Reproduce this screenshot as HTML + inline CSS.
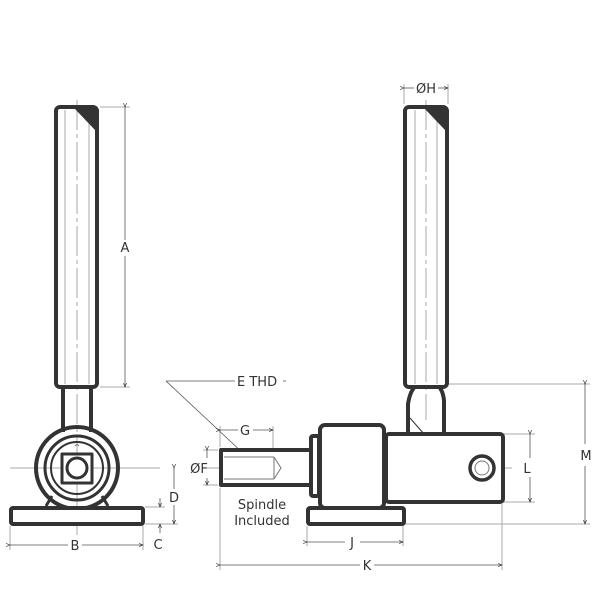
<!DOCTYPE html>
<html><head><style>
html,body{margin:0;padding:0;background:#fff;}
svg{display:block;}
text{font-family:"DejaVu Sans","Liberation Sans",sans-serif;fill:#333;}
</style></head><body>
<svg width="600" height="612" viewBox="0 0 600 612" xmlns="http://www.w3.org/2000/svg">
<defs>
<marker id="a" markerWidth="6" markerHeight="6" refX="5" refY="3" orient="auto"><path d="M0,1 L5,3 L0,5" fill="none" stroke="#333" stroke-width="0.8"/></marker>
</defs>
<g fill="none" stroke="#aaa" stroke-width="1">
<!-- centerlines -->
<line x1="77" y1="100" x2="77" y2="535" stroke-dasharray="30,4,4,4"/>
<line x1="10" y1="468" x2="160" y2="468"/>
<line x1="426" y1="100" x2="426" y2="420" stroke-dasharray="30,4,4,4"/>
<line x1="205" y1="468" x2="512" y2="468" stroke-dasharray="30,4,4,4"/>
<line x1="482" y1="447" x2="482" y2="490"/>
<!-- handle inner lines -->
<line x1="65" y1="110" x2="65" y2="384"/><line x1="89" y1="110" x2="89" y2="384"/>
<line x1="415" y1="110" x2="415" y2="384"/><line x1="437" y1="110" x2="437" y2="384"/>
<!-- extension lines -->
<line x1="100" y1="107" x2="130" y2="107"/><line x1="100" y1="387" x2="130" y2="387"/>
<line x1="449" y1="384" x2="590" y2="384"/><line x1="405" y1="524" x2="590" y2="524"/>
<line x1="504" y1="434" x2="535" y2="434"/><line x1="504" y1="502" x2="535" y2="502"/>
<line x1="145" y1="507" x2="165" y2="507"/><line x1="145" y1="524" x2="178" y2="524"/>
<line x1="10" y1="526" x2="10" y2="550"/><line x1="143" y1="526" x2="143" y2="550"/>
<line x1="404" y1="84" x2="404" y2="104"/><line x1="448" y1="84" x2="448" y2="104"/>
<line x1="307" y1="526" x2="307" y2="546"/><line x1="403" y1="526" x2="403" y2="546"/>
<line x1="220" y1="488" x2="220" y2="570"/><line x1="502" y1="504" x2="502" y2="570"/>
<line x1="220" y1="426" x2="220" y2="447"/><line x1="273" y1="426" x2="273" y2="456"/>
<line x1="203" y1="450" x2="218" y2="450"/><line x1="203" y1="485" x2="218" y2="485"/>
</g>
<g stroke="#555" stroke-width="0.8" fill="none">
<line x1="125" y1="107" x2="125" y2="240" marker-start="url(#a)"/><line x1="125" y1="256" x2="125" y2="387" marker-end="url(#a)"/>
<line x1="174" y1="468" x2="174" y2="489" marker-start="url(#a)"/><line x1="174" y1="505" x2="174" y2="524" marker-end="url(#a)"/>
<line x1="160" y1="498" x2="160" y2="507" marker-end="url(#a)"/><line x1="160" y1="533" x2="160" y2="524" marker-end="url(#a)"/>
<line x1="10" y1="545" x2="68" y2="545" marker-start="url(#a)"/><line x1="82" y1="545" x2="143" y2="545" marker-end="url(#a)"/>
<line x1="404" y1="88" x2="414" y2="88" marker-start="url(#a)"/><line x1="438" y1="88" x2="448" y2="88" marker-end="url(#a)"/>
<line x1="166" y1="381" x2="235" y2="381"/><line x1="166" y1="381" x2="245" y2="455"/>
<line x1="283" y1="381" x2="286" y2="381"/>
<line x1="220" y1="430" x2="238" y2="430" marker-start="url(#a)"/><line x1="253" y1="430" x2="273" y2="430" marker-end="url(#a)"/>
<line x1="207" y1="450" x2="207" y2="458" marker-start="url(#a)"/><line x1="207" y1="478" x2="207" y2="485" marker-end="url(#a)"/>
<line x1="307" y1="542" x2="345" y2="542" marker-start="url(#a)"/><line x1="360" y1="542" x2="403" y2="542" marker-end="url(#a)"/>
<line x1="220" y1="565" x2="360" y2="565" marker-start="url(#a)"/><line x1="374" y1="565" x2="502" y2="565" marker-end="url(#a)"/>
<line x1="530" y1="434" x2="530" y2="458" marker-start="url(#a)"/><line x1="530" y1="477" x2="530" y2="502" marker-end="url(#a)"/>
<line x1="585" y1="384" x2="585" y2="444" marker-start="url(#a)"/><line x1="585" y1="466" x2="585" y2="524" marker-end="url(#a)"/>
</g>
<g fill="none" stroke="#333" stroke-width="4" stroke-linejoin="round">
<!-- left view -->
<rect x="56" y="107" width="41" height="280" rx="4"/>
<path d="M63,388 L63,432 M91,388 L91,432"/>
<circle cx="77" cy="468" r="41"/>
<circle cx="77" cy="468" r="32" stroke-width="3"/>
<circle cx="77" cy="468" r="26" stroke-width="2"/>
<rect x="62" y="454" width="30" height="29" fill="#fff" stroke-width="3"/>
<circle cx="77" cy="468" r="10" stroke-width="3"/>
<path d="M46,506 L52,496 M108,506 L102,496" stroke-width="3"/>
<rect x="11" y="508" width="132" height="16" rx="2" fill="#fff"/>
<!-- right view -->
<rect x="405" y="107" width="42" height="280" rx="4"/>
<path d="M408,434 L408,404 Q410,392 414,388 M444,434 L444,400 Q443,392 440,388"/>
<rect x="221" y="450" width="92" height="35" fill="#fff"/>
<rect x="386" y="434" width="117" height="68" rx="3" fill="#fff"/>
<rect x="311" y="436" width="8" height="60" rx="2" fill="#fff"/>
<rect x="320" y="425" width="64" height="83" rx="5" fill="#fff"/>
<rect x="308" y="508" width="96" height="16" rx="2" fill="#fff"/>
<circle cx="482" cy="468" r="12" stroke-width="3.5"/>
</g>
<g fill="none" stroke="#777" stroke-width="1">
<path d="M224,457 L274,457 M224,479 L274,479 M274,457 L281,468 L274,479 M274,457 L274,479"/>
<line x1="410" y1="418" x2="424" y2="434" stroke="#333"/>
<circle cx="482" cy="468" r="7"/>
<path d="M75,446 Q77,443 79,446"/>
</g>
<path d="M75,109 L95,109 L95,130 Z" fill="#333"/>
<path d="M425,109 L445,109 L445,130 Z" fill="#333"/>
<g font-size="13">
<text x="125" y="252" text-anchor="middle">A</text>
<text x="174" y="502" text-anchor="middle">D</text>
<text x="158" y="549" text-anchor="middle">C</text>
<text x="75" y="550" text-anchor="middle">B</text>
<text x="426" y="93" text-anchor="middle">ØH</text>
<text x="237" y="386">E THD</text>
<text x="245" y="435" text-anchor="middle">G</text>
<text x="199" y="473" text-anchor="middle">ØF</text>
<text x="262" y="509" text-anchor="middle">Spindle</text>
<text x="262" y="525" text-anchor="middle">Included</text>
<text x="352" y="547" text-anchor="middle">J</text>
<text x="367" y="570" text-anchor="middle">K</text>
<text x="527" y="473" text-anchor="middle">L</text>
<text x="586" y="460" text-anchor="middle">M</text>
</g>
</svg>
</body></html>
